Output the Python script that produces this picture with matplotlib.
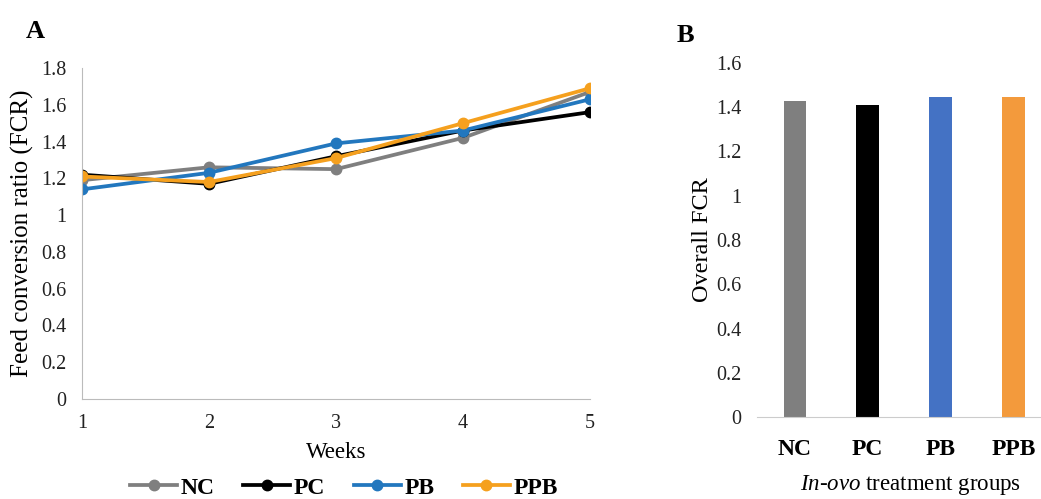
import matplotlib.pyplot as plt
import numpy as np

plt.rcParams['font.family'] = ['Liberation Serif', 'DejaVu Serif']
plt.rcParams['mathtext.fontset'] = 'custom'
plt.rcParams['mathtext.rm'] = 'Liberation Serif'
plt.rcParams['mathtext.it'] = 'Liberation Serif:italic'

# Panel A: weekly FCR
weeks = [1, 2, 3, 4, 5]
fcr_nc = [1.19, 1.26, 1.25, 1.42, 1.67]
fcr_pc = [1.22, 1.17, 1.32, 1.46, 1.56]
fcr_pb = [1.14, 1.23, 1.39, 1.46, 1.63]
fcr_ppb = [1.21, 1.18, 1.31, 1.50, 1.69]

# Panel B: overall FCR
groups = ['NC', 'PC', 'PB', 'PPB']
overall_fcr = [1.43, 1.41, 1.445, 1.445]

line_colors = ['#7F7F7F', '#000000', '#2277BE', '#F5A01E']
bar_colors = ['#7F7F7F', '#000000', '#4472C4', '#F39A3C']

W, H = 1041, 499
fig = plt.figure(figsize=(W/100, H/100), dpi=100)

# ---- Panel A ----
axA = fig.add_axes([82/W, 1 - 399/H, (590-82)/W, (399-68)/H])
series = [fcr_nc, fcr_pc, fcr_pb, fcr_ppb]
for name, vals, c in zip(groups, series, line_colors):
    axA.plot(weeks, vals, color=c, linewidth=2.7, marker='o', markersize=7.5, label=name)

axA.set_xlim(1, 5)
axA.set_ylim(0, 1.8)
axA.set_xticks(weeks)
axA.set_yticks(np.arange(0, 1.81, 0.2))
axA.set_yticklabels(['0', '0.2', '0.4', '0.6', '0.8', '1', '1.2', '1.4', '1.6', '1.8'])
axA.tick_params(length=0, labelsize=14.5, colors='#222222', pad=11)
axA.tick_params(axis='x', pad=11)
for s in ['top', 'right']:
    axA.spines[s].set_visible(False)
for s in ['left', 'bottom']:
    axA.spines[s].set_color('#BBBBBB')
axA.set_xlabel('Weeks', fontsize=16.5)
axA.xaxis.set_label_coords(0.5, (399-452)/331)
axA.xaxis.label.set_va('center')
axA.set_ylabel('Feed conversion ratio (FCR)', fontsize=18)
axA.yaxis.set_label_coords((22-82)/508, 0.5)
axA.yaxis.label.set_va('center')
fig.text(35/W, 1 - 32/H, 'A', fontsize=19, fontweight='bold', ha='center', va='center')

# legend sits at the bottom edge, as in the reference
fig.legend(loc='center', bbox_to_anchor=(344/W, 1 - 488/H), ncol=4, frameon=False,
           prop={'weight': 'bold', 'size': 17}, handlelength=2.0, columnspacing=1.2,
           handletextpad=0.15, borderpad=0.1)

# ---- Panel B ----
axB = fig.add_axes([757/W, 1 - 417/H, (W-757)/W, (417-63)/H])
x = np.arange(len(groups))
axB.bar(x, overall_fcr, width=0.31, color=bar_colors)
axB.set_xlim(-0.52, 3.38)
axB.set_ylim(0, 1.6)
axB.set_yticks(np.arange(0, 1.61, 0.2))
axB.set_yticklabels(['0', '0.2', '0.4', '0.6', '0.8', '1', '1.2', '1.4', '1.6'])
axB.set_xticks(x)
axB.set_xticklabels(groups, fontweight='bold', fontsize=17)
axB.tick_params(axis='y', length=0, labelsize=14.5, colors='#222222', pad=11)
axB.tick_params(axis='x', length=0, pad=16)
for s in ['top', 'right', 'left']:
    axB.spines[s].set_visible(False)
axB.spines['bottom'].set_color('#CCCCCC')
axB.set_ylabel('Overall FCR', fontsize=17.5)
axB.yaxis.set_label_coords((702-757)/284, 0.5)
axB.yaxis.label.set_va('center')
axB.set_xlabel(r'$\mathit{In}$-$\mathit{ovo}$ treatment groups', fontsize=16.5)
axB.xaxis.set_label_coords((911-757)/284, (417-485)/354)
axB.xaxis.label.set_va('center')
fig.text(685/W, 1 - 35/H, 'B', fontsize=19, fontweight='bold', ha='center', va='center')

plt.savefig('out.png', dpi=100)
